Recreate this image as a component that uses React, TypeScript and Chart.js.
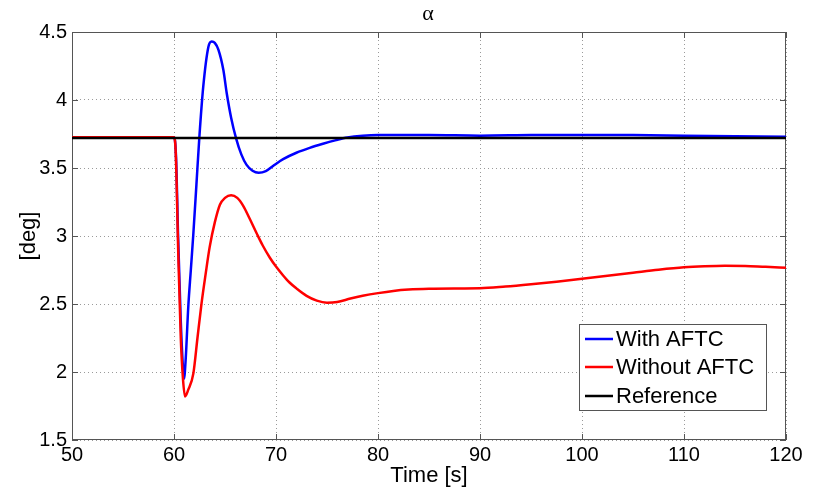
import React, { useEffect, useRef } from "react";
import { Chart, registerables } from "chart.js";

Chart.register(...registerables);

const xTicks = [50, 60, 70, 80, 90, 100, 110, 120];
const yTicks = [1.5, 2, 2.5, 3, 3.5, 4, 4.5];

const timeBlue = [50, 60, 60.2, 60.4, 60.65, 60.85, 60.98, 61.15, 61.4, 61.65, 61.9, 62.2, 62.48, 62.87, 63.37, 63.7, 64.0, 64.35, 64.84, 65.17, 65.6, 66.08, 66.6, 67.1, 67.7, 68.3, 69.0, 69.8, 70.7, 72.0, 73.3, 74.6, 75.9, 77.0, 78.5, 80, 85, 90, 95, 100, 105, 110, 115, 120];
const valuesBlue = [3.727, 3.727, 3.58, 3.0, 2.4, 2.07, 1.95, 2.1, 2.48, 2.75, 3.02, 3.38, 3.72, 4.1, 4.39, 4.43, 4.42, 4.37, 4.22, 4.05, 3.87, 3.72, 3.6, 3.525, 3.48, 3.465, 3.477, 3.52, 3.565, 3.612, 3.648, 3.678, 3.705, 3.724, 3.737, 3.742, 3.742, 3.738, 3.742, 3.743, 3.742, 3.738, 3.734, 3.73];

const timeRed = [50, 60, 60.17, 60.42, 60.66, 60.88, 61.08, 61.4, 61.9, 62.3, 62.7, 63.1, 63.5, 64.0, 64.5, 65.0, 65.6, 66.2, 66.8, 67.4, 68.1, 68.7, 69.4, 70.0, 70.7, 71.3, 72.0, 73.0, 74.0, 75.0, 76.0, 77.3, 78.5, 80, 81.5, 83, 85, 88, 90, 92.5, 95, 97.5, 100, 102.5, 105, 107.5, 110, 112, 114, 116, 118, 120];
const valuesRed = [3.727, 3.727, 3.61, 2.87, 2.26, 1.95, 1.82, 1.87, 1.99, 2.25, 2.505, 2.72, 2.92, 3.1, 3.23, 3.28, 3.3, 3.28, 3.22, 3.13, 3.02, 2.93, 2.84, 2.775, 2.71, 2.66, 2.615, 2.56, 2.525, 2.51, 2.515, 2.54, 2.56, 2.58, 2.596, 2.606, 2.612, 2.614, 2.615, 2.628, 2.645, 2.664, 2.686, 2.708, 2.73, 2.752, 2.77, 2.778, 2.782, 2.78, 2.773, 2.767];

const timeRef = [50, 120];
const valuesRef = [3.72, 3.72];

const seriesNames = ["With AFTC", "Without AFTC", "Reference"];
const seriesColors = ["#0000ff", "#ff0000", "#000000"];

const toPoints = (xs: number[], ys: number[]) => xs.map((x, i) => ({ x, y: ys[i] }));

const FONT = "'Liberation Sans', Arial, sans-serif";

const framePlugin = {
  id: "frame",
  beforeDatasetsDraw(chart: any) {
    const { ctx, chartArea } = chart;
    const { left, right, top, bottom } = chartArea;
    const xs = chart.scales.x;
    const ys = chart.scales.y;
    ctx.save();
    ctx.strokeStyle = "#555";
    ctx.lineWidth = 1;
    ctx.strokeRect(left + 0.5, top + 0.5, right - left - 1, bottom - top - 1);
    const tl = 6;
    ctx.beginPath();
    xTicks.forEach((t) => {
      const px = Math.round(xs.getPixelForValue(t)) + 0.5;
      ctx.moveTo(px, bottom);
      ctx.lineTo(px, bottom - tl);
      ctx.moveTo(px, top);
      ctx.lineTo(px, top + tl);
    });
    yTicks.forEach((t) => {
      const py = Math.round(ys.getPixelForValue(t)) + 0.5;
      ctx.moveTo(left, py);
      ctx.lineTo(left + tl, py);
      ctx.moveTo(right, py);
      ctx.lineTo(right - tl, py);
    });
    ctx.stroke();
    ctx.restore();
  },
  afterDraw(chart: any) {
    const { ctx } = chart;
    ctx.save();
    ctx.fillStyle = "#000";
    ctx.font = "22px 'Liberation Serif', 'DejaVu Serif', serif";
    ctx.textAlign = "center";
    ctx.textBaseline = "middle";
    ctx.fillText("\u03b1", 428, 14);
    const bx = 579, by = 324, bw = 187, bh = 86;
    ctx.fillStyle = "#fff";
    ctx.fillRect(bx, by, bw, bh);
    ctx.strokeStyle = "#555";
    ctx.lineWidth = 1;
    ctx.strokeRect(bx + 0.5, by + 0.5, bw, bh);
    const rows = [339, 367, 396];
    ctx.font = `22px ${FONT}`;
    ctx.textAlign = "left";
    ctx.textBaseline = "middle";
    seriesNames.forEach((name, i) => {
      ctx.strokeStyle = seriesColors[i];
      ctx.lineWidth = 2.5;
      ctx.beginPath();
      ctx.moveTo(585, rows[i]);
      ctx.lineTo(613, rows[i]);
      ctx.stroke();
      ctx.fillStyle = "#000";
      ctx.fillText(name, 616, rows[i] + 1);
    });
    ctx.restore();
  },
};

export default function App() {
  const ref = useRef<HTMLCanvasElement>(null);
  useEffect(() => {
    document.body.style.margin = "0";
    const canvas = ref.current!;
    const common = { borderWidth: 2.5, pointRadius: 0, cubicInterpolationMode: "monotone" };
    const chart = new Chart(canvas, {
      type: "line",
      data: {
        datasets: [
          { label: seriesNames[0], data: toPoints(timeBlue, valuesBlue), borderColor: seriesColors[0], order: 3, ...common },
          { label: seriesNames[1], data: toPoints(timeRed, valuesRed), borderColor: seriesColors[1], order: 2, ...common },
          { label: seriesNames[2], data: toPoints(timeRef, valuesRef), borderColor: seriesColors[2], order: 1, ...common },
        ],
      },
      options: {
        animation: false,
        responsive: false,
        devicePixelRatio: 1,
        layout: { padding: { top: 32, right: 31, left: 0, bottom: 0 } },
        plugins: { legend: { display: false }, tooltip: { enabled: false }, title: { display: false } },
        scales: {
          x: {
            type: "linear",
            min: 50,
            max: 120,
            afterBuildTicks: (s: any) => { s.ticks = xTicks.map((v) => ({ value: v })); },
            afterFit: (s: any) => { s.height = 57; },
            ticks: { color: "#000", font: { family: FONT, size: 20 }, padding: 3, maxRotation: 0, autoSkip: false, callback: (v: any) => String(v) },
            grid: { color: "#9a9a9a", lineWidth: 1, drawTicks: false },
            border: { display: false, dash: [1, 3] },
            title: { display: true, text: "Time [s]", color: "#000", font: { family: FONT, size: 22 }, padding: { top: 0, bottom: 8 } },
          },
          y: {
            type: "linear",
            min: 1.5,
            max: 4.5,
            afterBuildTicks: (s: any) => { s.ticks = yTicks.map((v) => ({ value: v })); },
            afterFit: (s: any) => { s.width = 72; },
            ticks: { color: "#000", font: { family: FONT, size: 20 }, padding: 5, autoSkip: false, callback: (v: any) => String(v) },
            grid: { color: "#9a9a9a", lineWidth: 1, drawTicks: false },
            border: { display: false, dash: [1, 3] },
            title: { display: true, text: "[deg]", color: "#000", font: { family: FONT, size: 22 }, padding: { top: 16, bottom: 0 } },
          },
        },
      },
      plugins: [framePlugin],
    } as any);
    return () => chart.destroy();
  }, []);
  return (
    <div style={{ width: 817, height: 497, background: "#fff" }}>
      <canvas ref={ref} width={817} height={497} />
    </div>
  );
}
